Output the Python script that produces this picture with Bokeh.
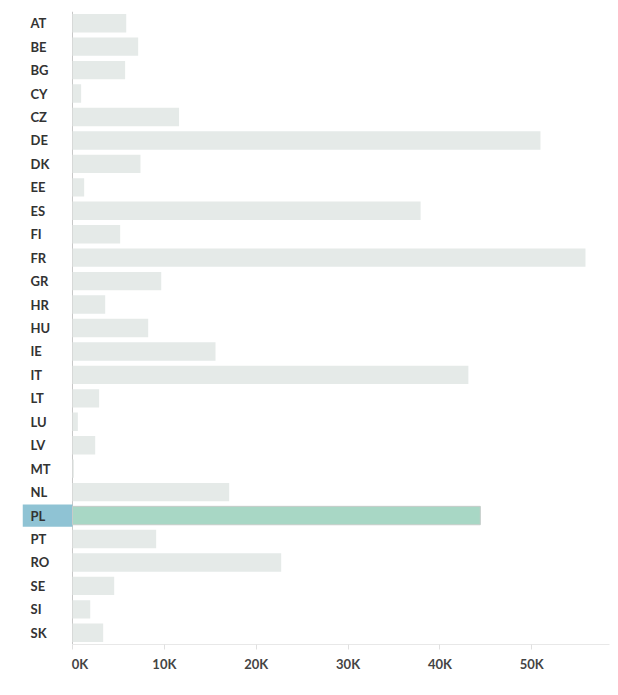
from bokeh.plotting import figure
from bokeh.models import (ColumnDataSource, FactorRange, Range1d, FixedTicker,
                          CustomJSTickFormatter, Span)
from bokeh.core.properties import value
from bokeh.embed import file_html
from bokeh.resources import INLINE

countries = ["AT", "BE", "BG", "CY", "CZ", "DE", "DK", "EE", "ES", "FI", "FR",
             "GR", "HR", "HU", "IE", "IT", "LT", "LU", "LV", "MT", "NL", "PL",
             "PT", "RO", "SE", "SI", "SK"]
values = [5850, 7150, 5730, 940, 11600, 50950, 7400, 1270, 37900, 5190, 55850,
          9660, 3560, 8240, 15570, 43100, 2900, 580, 2470, 150, 17060, 44400,
          9110, 22720, 4540, 1930, 3340]
tick_values = [0, 10000, 20000, 30000, 40000, 50000]
selected = "PL"

X_START = -5444
X_END = 58465
LABEL_X = -4573

bar_colors = ["#a8d7c5" if c == selected else "#e5eae8" for c in countries]
bar_lines = ["#c6ccc9" if c == selected else None for c in countries]
src = ColumnDataSource(dict(country=countries, value=values,
                            color=bar_colors, line=bar_lines))

sel_idx = countries.index(selected)
hl = ColumnDataSource(dict(country=[countries[sel_idx]]))

p = figure(width=618, height=695, output_backend="svg", toolbar_location=None,
           y_range=FactorRange(factors=list(reversed(countries)), range_padding=0),
           x_range=Range1d(X_START, X_END),
           min_border_left=22, min_border_right=9, min_border_top=11,
           min_border_bottom=51)
p.outline_line_color = None
p.grid.grid_line_color = None
p.background_fill_color = "white"
p.border_fill_color = "white"

zero = Span(location=0, dimension="height", line_color="#c8c8c8",
            line_width=1, level="underlay")
p.add_layout(zero)

p.hbar(y="country", right=0, left=X_START, height=0.95, source=hl,
       fill_color="#8fc3d4", line_color=None)
p.hbar(y="country", right="value", left=0, height=0.785, source=src,
       fill_color="color", line_color="line", line_width=1)
p.text(x=LABEL_X, y="country", text="country", source=src,
       text_align="left", text_baseline="middle",
       text_font=value("Lato"), text_font_style="bold",
       text_font_size="13px", text_color="#333333")

p.yaxis.visible = False

xa = p.xaxis[0]
xa.ticker = FixedTicker(ticks=tick_values)
xa.formatter = CustomJSTickFormatter(
    code="var s = (tick/1000).toFixed(0) + 'K'; return tick == 0 ? '\u2007\u2007' + s : s;")
xa.bounds = (0, X_END)
xa.axis_line_color = "#e8e8e8"
xa.major_tick_line_color = "#e0e0e0"
xa.major_tick_out = 5
xa.major_tick_in = 0
xa.minor_tick_line_color = None
xa.major_label_standoff = 6
xa.major_label_text_font = "Lato"
xa.major_label_text_font_style = "bold"
xa.major_label_text_font_size = "13px"
xa.major_label_text_color = "#444444"

open("out.html", "w").write(file_html(p, INLINE))
